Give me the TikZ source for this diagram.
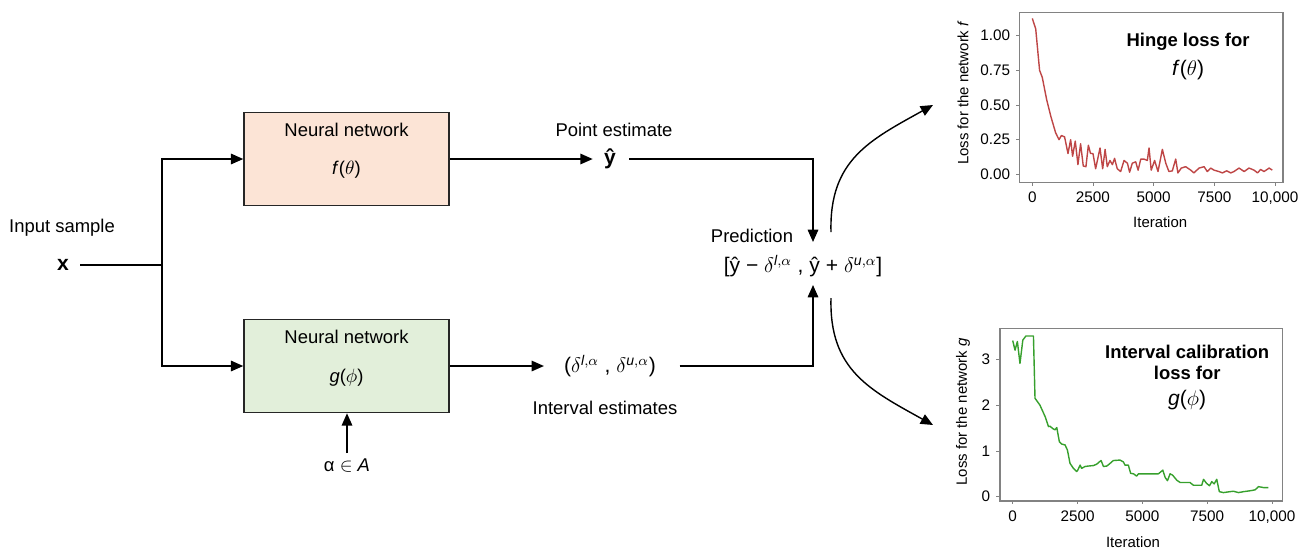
\documentclass[tikz,border=0pt]{standalone}
\usepackage{amsmath}
\usepackage{fontspec}
\setmainfont{Liberation Sans}
\usetikzlibrary{arrows.meta,positioning}

\definecolor{peach}{RGB}{252,228,214}
\definecolor{mint}{RGB}{226,239,218}
\definecolor{lossred}{RGB}{190,70,70}
\definecolor{lossgreen}{RGB}{55,160,45}
\definecolor{framegray}{RGB}{130,130,130}

\tikzset{
	netbox/.style={draw=black!85, line width=0.9pt, minimum width=4.1cm, minimum height=1.86cm},
	flow/.style={line width=0.8pt, -{Triangle[length=7pt,width=6pt]}},
	wire/.style={line width=0.8pt},
	bigmath/.style={font=\fontsize{12}{14}\selectfont},
	ticklabel/.style={font=\fontsize{8.7}{10}\selectfont},
	axislabel/.style={font=\fontsize{8.5}{10}\selectfont},
	plottitle/.style={font=\fontsize{10.5}{12}\selectfont\bfseries},
	plotfn/.style={font=\fontsize{12}{14}\selectfont}
}

\begin{document}
\begin{tikzpicture}[x=0.02cm, y=-0.02cm, font=\fontsize{10.5}{12.6}\selectfont]
		\useasboundingbox (0,0) rectangle (1301,549);

		% Input.
		\node (input) at (62,228) {Input sample};
		\node[bigmath] (x) at (63,265) {\textbf{x}};
		\coordinate (split) at (162,265);

		% The two networks.
		\node[netbox, fill=peach] (f) at (346.5,159) {};
		\node (fnet) at (346.5,130) {Neural network};
		\node (ffun) at (346.5,170) {\textit{f}($\theta$)};
		\node[netbox, fill=mint] (g) at (346.5,366) {};
		\node (gnet) at (346.5,337) {Neural network};
		\node (gfun) at (346.5,378) {\textit{g}($\phi$)};
		\node (alpha) at (347,466) {α $\in$ \textit{A}};

		% Estimates and prediction.
		\node (pointlbl) at (614,130) {Point estimate};
		\node[bigmath] (yhat) at (610,159) {\textbf{ŷ}};
		\node[bigmath] (delta) at (610,366) {($\delta^{\textit{l},\alpha}$ , $\delta^{\textit{u},\alpha}$)};
		\node (intlbl) at (605,408) {Interval estimates};
		\node (predlbl) at (752,236) {Prediction};
		\node[bigmath] (pred) at (803,266) {[ŷ − $\delta^{\textit{l},\alpha}$ , ŷ + $\delta^{\textit{u},\alpha}$]};
		\coordinate (predin1) at (813,242);
		\coordinate (predin2) at (813,285);
		\coordinate (predout1) at (831,232);
		\coordinate (predout2) at (831,298);
		\coordinate (ftip) at (933,105);
		\coordinate (gtip) at (933,425);

		% Connections.
		\draw[wire, shorten <=3pt] (x.east) -- (split);
		\draw[flow] (split) |- (f.west);
		\draw[flow] (split) |- (g.west);
		\draw[flow, shorten >=3pt] (f.east) -- (yhat.west);
		\draw[flow, shorten >=8pt] (g.east) -- (delta.west);
		\draw[flow, shorten <=4pt] (yhat.east) -| (predin1);
		\draw[flow, shorten <=10pt] (delta.east) -| (predin2);
		\draw[flow] (alpha.north) -- (alpha.north |- g.south);
		\draw[flow] (predout1) .. controls (829,160) and (870,140) .. (ftip);
		\draw[flow] (predout2) .. controls (829,370) and (870,390) .. (gtip);

		% Loss of the network f.
		\begin{scope}[shift={(1032.3,174.3)}, x=0.4854cm, y=2.772cm]
			\draw[framegray, line width=0.6pt] (-0.51,-0.058) rectangle (10.33,1.171);
			\foreach \v/\l in {0/0.00,0.25/0.25,0.5/0.50,0.75/0.75,1/1.00}
				\draw[framegray] (-0.51,\v) -- ++(-0.15,0) node[left, black, ticklabel] {\l};
			\foreach \v/\l in {0/0,2.5/2500,5/5000,7.5/7500,10/{10,000}}
				\draw[framegray] (\v,-0.058) -- ++(0,-0.025) node[below, black, ticklabel] {\l};
			\draw[lossred, line width=0.8pt, line join=round] plot coordinates {
				(0,1.125) (0.14,1.05) (0.3,0.75) (0.41,0.70) (0.59,0.54) (0.76,0.42)
				(0.96,0.30) (1.1,0.25) (1.2,0.28) (1.33,0.27) (1.47,0.15) (1.58,0.25)
				(1.66,0.13) (1.77,0.24) (1.88,0.07) (1.99,0.22) (2.1,0.06) (2.21,0.055)
				(2.31,0.21) (2.4,0.15) (2.5,0.15) (2.61,0.04) (2.79,0.19) (2.9,0.04)
				(3.0,0.18) (3.09,0.055) (3.2,0.10) (3.3,0.07) (3.39,0.115) (3.5,0.04)
				(3.64,0.02) (3.78,0.10) (3.92,0.08) (4.01,0.015) (4.12,0.08) (4.26,0.09)
				(4.36,0.03) (4.47,0.11) (4.6,0.11) (4.74,0.10) (4.81,0.19) (4.9,0.03)
				(5.04,0.10) (5.18,0.02) (5.36,0.18) (5.5,0.08) (5.63,0.02) (5.77,0.025)
				(5.91,0.11) (6.0,0.01) (6.14,0.045) (6.32,0.055) (6.53,0.03) (6.66,0.01)
				(6.87,0.045) (7.08,0.055) (7.21,0.02) (7.35,0.045) (7.49,0.03) (7.69,0.02)
				(7.83,0.01) (8.01,0.025) (8.18,0.01) (8.31,0.02) (8.52,0.045) (8.73,0.02)
				(8.93,0.045) (9.14,0.03) (9.28,0.01) (9.41,0.035) (9.55,0.02) (9.76,0.045)
				(9.89,0.03)};
			\node[axislabel, rotate=90] (flossaxis) at (-2.86,0.587) {Loss for the network \textit{f}};
			\node[axislabel] (fiter) at (5.27,-0.344) {Iteration};
			\node[plottitle] (ftitle) at (6.42,0.955) {Hinge loss for};
			\node[plotfn] (ftitlefn) at (6.42,0.753) {\textit{f}($\theta$)};
		\end{scope}

		% Loss of the network g.
		\begin{scope}[shift={(1012.7,496.7)}, x=0.5186cm, y=0.916cm]
			\draw[framegray, line width=0.6pt] (-0.49,-0.094) rectangle (10.39,3.68);
			\foreach \v in {0,1,2,3}
				\draw[framegray] (-0.49,\v) -- ++(-0.14,0) node[left, black, ticklabel] {\v};
			\foreach \v/\l in {0/0,2.5/2500,5/5000,7.5/7500,10/{10,000}}
				\draw[framegray] (\v,-0.094) -- ++(0,-0.075) node[below, black, ticklabel] {\l};
			\draw[lossgreen, line width=0.8pt, line join=round] plot coordinates {
				(0,3.41) (0.09,3.20) (0.18,3.39) (0.28,2.91) (0.39,3.42) (0.51,3.51)
				(0.80,3.51) (0.86,2.15) (1.05,2.00) (1.25,1.75) (1.38,1.53) (1.44,1.54)
				(1.54,1.49) (1.63,1.46) (1.70,1.51) (1.80,1.20) (1.89,1.15) (2.02,1.13)
				(2.11,1.02) (2.21,0.73) (2.34,0.62) (2.47,0.55) (2.51,0.58) (2.60,0.69)
				(2.66,0.62) (2.79,0.66) (2.92,0.67) (3.11,0.68) (3.24,0.71) (3.34,0.76)
				(3.41,0.79) (3.50,0.66) (3.63,0.67) (3.76,0.73) (3.88,0.79) (4.14,0.80)
				(4.27,0.76) (4.33,0.69) (4.46,0.69) (4.55,0.51) (4.66,0.50) (4.78,0.45)
				(4.85,0.50) (5.62,0.50) (5.79,0.58) (5.88,0.42) (5.97,0.35) (6.07,0.50)
				(6.17,0.47) (6.33,0.36) (6.46,0.31) (6.84,0.31) (6.97,0.25) (7.29,0.25)
				(7.36,0.38) (7.48,0.29) (7.59,0.24) (7.68,0.33) (7.77,0.28) (7.87,0.38)
				(7.97,0.11) (8.13,0.09) (8.38,0.11) (8.51,0.12) (8.71,0.09) (8.90,0.11)
				(9.16,0.13) (9.35,0.15) (9.48,0.22) (9.67,0.20) (9.86,0.20)};
			\node[axislabel, rotate=90] (glossaxis) at (-1.92,1.85) {Loss for the network \textit{g}};
			\node[axislabel] (giter) at (4.64,-0.99) {Iteration};
			\node[plottitle] (gtitle1) at (6.73,3.16) {Interval calibration};
			\node[plottitle] (gtitle2) at (6.73,2.70) {loss for};
			\node[plotfn] (gtitlefn) at (6.73,2.11) {\textit{g}($\phi$)};
		\end{scope}

	\end{tikzpicture}
\end{document}
